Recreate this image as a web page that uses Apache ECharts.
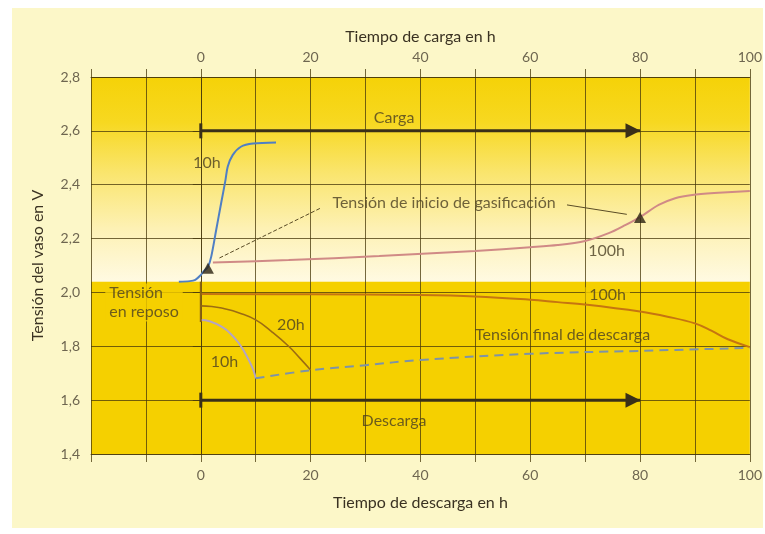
<!DOCTYPE html>
<html>
<head>
<meta charset="utf-8">
<script src="https://cdn.jsdelivr.net/npm/echarts@6/dist/echarts.min.js"></script>
<style>html,body{margin:0;padding:0;background:#ffffff;}#c{width:765px;height:534px;}</style>
</head>
<body>
<div id="c"></div>
<script>
// ---- data (hours, volts) ----
var xTicks = [0, 20, 40, 60, 80, 100];
var bandTop = 2.8, bandSplit = 2.04, bandBottom = 1.4;

var charge10hX = [-4, -2, -1, 0, 0.5, 1.3, 1.9, 2.8, 3.7, 4.5, 4.9, 5.8, 7.3, 9.5, 13.7];
var charge10hY = [2.040, 2.042, 2.047, 2.065, 2.078, 2.095, 2.133, 2.232, 2.331, 2.418, 2.467, 2.510, 2.541, 2.553, 2.557];

var charge100hX = [2.2, 16, 32.5, 50, 60, 65, 70, 74.3, 77.3, 80, 83.4, 86.4, 89.5, 94.3, 100];
var charge100hY = [2.111, 2.120, 2.135, 2.154, 2.168, 2.176, 2.191, 2.220, 2.250, 2.280, 2.325, 2.350, 2.362, 2.370, 2.377];

var dis100hX = [0, 20, 40, 50, 60, 65, 70, 80, 85, 90, 93, 96, 100];
var dis100hY = [1.994, 1.993, 1.990, 1.985, 1.973, 1.964, 1.955, 1.929, 1.910, 1.885, 1.858, 1.826, 1.797];

var dis20hX = [0, 2, 4, 7, 10, 13, 16, 18, 20];
var dis20hY = [1.950, 1.948, 1.941, 1.924, 1.898, 1.853, 1.800, 1.757, 1.712];

var dis10hX = [0, 1.6, 4, 5.5, 6.8, 8.0, 9.0, 9.6, 10];
var dis10hY = [1.898, 1.893, 1.870, 1.845, 1.815, 1.777, 1.738, 1.710, 1.681];

var finalX = [10, 20, 30, 40, 60, 80, 100];
var finalY = [1.681, 1.711, 1.730, 1.749, 1.772, 1.783, 1.794];

var restLineX = [0, 0];
var restLineY = [2.04, 1.89];

var chargeArrowX = [0, 80], chargeArrowY = [2.6, 2.6];
var dischargeArrowX = [0, 80], dischargeArrowY = [1.6, 1.6];

var gasPointsX = [1.3, 80];
var gasPointsY = [2.09, 2.278];

var pointer1X = [3.4, 21.9], pointer1Y = [2.128, 2.314];
var pointer2X = [66.7, 77.6], pointer2Y = [2.325, 2.29];

var labelTexts = ['Carga', 'Descarga', '10h', 'Tensión de inicio de gasificación', '100h', 'Tensión final de descarga', '20h', '10h'];
var labelX = [35.2, 35.2, 1.1, 44.3, 73.9, 65.9, 16.4, 4.3];
var labelY = [2.648, 1.524, 2.483, 2.333, 2.155, 1.843, 1.879, 1.743];

var bgLabelTexts = ['100h', 'Tensión\nen reposo'];
var bgLabelX = [74.1, -17.4];
var bgLabelY = [1.991, 1.963];

function pairs(xs, ys) { return xs.map(function (x, i) { return [x, ys[i]]; }); }

var FONT = 'Lato';
var GRID = 'rgba(70,55,10,0.75)';
var GOLD = '#f5d000';
var TXT = '#4a3f22';

var chart = echarts.init(document.getElementById('c'));

function xAxisDef(pos, name, gap, margin) {
  return {
    type: 'value', position: pos, min: -20, max: 100, interval: 10, z: 3,
    name: name, nameLocation: 'middle', nameGap: gap,
    nameTextStyle: { fontFamily: FONT, fontSize: 16, color: '#3a3222' },
    axisLine: { show: true, lineStyle: { color: GRID, width: 1 } },
    axisTick: { show: true, length: 8, lineStyle: { color: GRID } },
    axisLabel: {
      margin: margin, fontFamily: FONT, fontSize: 14, color: '#6e6650',
      formatter: function (v) { return xTicks.indexOf(Math.round(v)) >= 0 ? String(Math.round(v)) : ''; }
    },
    splitLine: { show: pos === 'bottom', lineStyle: { color: GRID, width: 1 } }
  };
}

var option = {
  animation: false,
  backgroundColor: '#ffffff',
  graphic: { elements: [{ type: 'rect', z: -10, left: 12, top: 8, shape: { width: 751, height: 520 }, style: { fill: '#fcf7c8' } }] },
  grid: { left: 91, right: 15, top: 77, bottom: 80, containLabel: false },
  xAxis: [
    xAxisDef('bottom', 'Tiempo de descarga en h', 41, 14),
    xAxisDef('top', 'Tiempo de carga en h', 31, 13)
  ],
  yAxis: {
    type: 'value', min: 1.4, max: 2.8, interval: 0.2, z: 3,
    name: 'Tensión del vaso en V', nameLocation: 'middle', nameGap: 45,
    nameTextStyle: { fontFamily: FONT, fontSize: 16, color: '#3a3222' },
    axisLine: { show: true, lineStyle: { color: GRID, width: 1 } },
    axisTick: { show: true, length: 8, lineStyle: { color: GRID } },
    axisLabel: {
      margin: 11, fontFamily: FONT, fontSize: 14, color: '#6e6650',
      formatter: function (v) { return v.toFixed(1).replace('.', ','); }
    },
    splitLine: { show: true, lineStyle: { color: GRID, width: 1 } }
  },
  series: [
    {
      type: 'line', data: [], silent: true,
      markArea: {
        silent: true, z: 1,
        data: [
          [{ yAxis: bandTop, xAxis: -20, itemStyle: { color: new echarts.graphic.LinearGradient(0, 0, 0, 1, [
              { offset: 0, color: '#f5d208' }, { offset: 0.22, color: '#f7d820' }, { offset: 0.47, color: '#fae56e' },
              { offset: 0.74, color: '#fdf1b4' }, { offset: 1, color: '#fffae2' }]) } },
           { yAxis: bandSplit, xAxis: 100 }],
          [{ yAxis: bandSplit, xAxis: -20, itemStyle: { color: GOLD } }, { yAxis: bandBottom, xAxis: 100 }]
        ]
      }
    },
    { type: 'line', z: 5, data: pairs(charge10hX, charge10hY), smooth: 0.3, symbol: 'none', lineStyle: { color: '#4f7fc4', width: 2 } },
    { type: 'line', z: 5, data: pairs(charge100hX, charge100hY), smooth: 0.3, symbol: 'none', lineStyle: { color: '#d08a86', width: 2 } },
    { type: 'line', z: 5, data: pairs(dis100hX, dis100hY), smooth: 0.4, symbol: 'none', lineStyle: { color: '#c67510', width: 2 } },
    { type: 'line', z: 5, data: pairs(dis20hX, dis20hY), smooth: 0.5, symbol: 'none', lineStyle: { color: '#9c6c12', width: 1.6 } },
    { type: 'line', z: 5, data: pairs(dis10hX, dis10hY), smooth: 0.5, symbol: 'none', lineStyle: { color: '#b4a4c4', width: 2 } },
    { type: 'line', z: 5, data: pairs(finalX, finalY), smooth: 0.4, symbol: 'none', lineStyle: { color: '#7d93a8', width: 2, type: [9, 6] } },
    { type: 'line', z: 5, data: pairs(restLineX, restLineY), symbol: 'none', lineStyle: { color: '#8a6212', width: 2 } },
    { type: 'line', z: 5, data: pairs(pointer1X, pointer1Y), symbol: 'none', lineStyle: { color: '#5a4c26', width: 1, type: [4, 2] } },
    { type: 'line', z: 5, data: pairs(pointer2X, pointer2Y), symbol: 'none', lineStyle: { color: '#5a4c26', width: 1 } },
    {
      type: 'line', z: 6, lineStyle: { color: '#3a3018', width: 3 }, itemStyle: { color: '#3a3018' },
      data: [
        { value: [chargeArrowX[0], chargeArrowY[0]], symbol: 'rect', symbolSize: [3, 15] },
        { value: [chargeArrowX[1], chargeArrowY[1]], symbol: 'triangle', symbolSize: [15, 15], symbolRotate: -90, symbolOffset: [-7, 0] }
      ]
    },
    {
      type: 'line', z: 6, lineStyle: { color: '#3a3018', width: 3 }, itemStyle: { color: '#3a3018' },
      data: [
        { value: [dischargeArrowX[0], dischargeArrowY[0]], symbol: 'rect', symbolSize: [3, 15] },
        { value: [dischargeArrowX[1], dischargeArrowY[1]], symbol: 'triangle', symbolSize: [15, 15], symbolRotate: -90, symbolOffset: [-7, 0] }
      ]
    },
    { type: 'scatter', z: 7, data: pairs(gasPointsX, gasPointsY), symbol: 'triangle', symbolSize: [12, 11], itemStyle: { color: '#2a2212' } },
    {
      type: 'scatter', z: 4, symbolSize: 1, itemStyle: { color: 'rgba(0,0,0,0)' },
      data: labelX.map(function (x, i) { return { value: [x, labelY[i]], name: labelTexts[i] }; }),
      label: { show: true, position: 'inside', fontFamily: FONT, fontSize: 16, color: TXT, formatter: function (p) { return p.name; } }
    },
    {
      type: 'scatter', z: 4, symbolSize: 1, itemStyle: { color: 'rgba(0,0,0,0)' },
      data: bgLabelX.map(function (x, i) {
        return { value: [x, bgLabelY[i]], name: bgLabelTexts[i], label: i === 0 ? { align: 'center', lineHeight: 15 } : { align: 'left', lineHeight: 19 } };
      }),
      label: { show: true, position: 'inside', fontFamily: FONT, fontSize: 16, color: TXT,
        backgroundColor: GOLD, padding: [0, 4, 0, 4], formatter: function (p) { return p.name; } }
    }
  ]
};
chart.setOption(option);
</script>
</body>
</html>
